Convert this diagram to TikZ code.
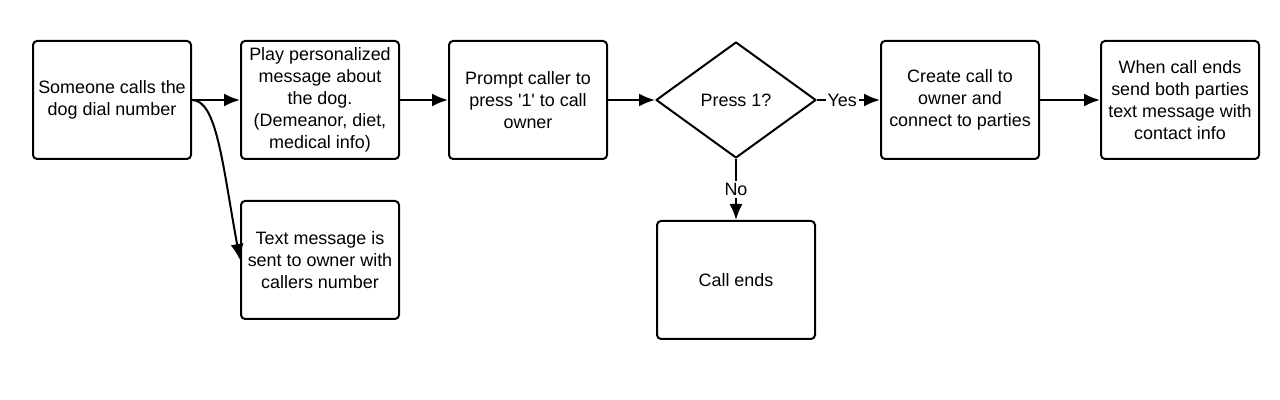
\documentclass[tikz,border=0pt]{standalone}
\usepackage{fontspec}
\setmainfont{Liberation Sans}
\usetikzlibrary{arrows.meta, shapes.geometric, positioning}

\begin{document}
\begin{tikzpicture}
            \tikzstyle{step box}=[shape=rectangle, draw=black, line width=0.04cm, rounded corners=0.08cm, minimum width=3.16cm, minimum height=2.36cm, align=center, font=\fontsize{10.2}{12.5}\selectfont, inner sep=0pt];
            \tikzstyle{choice}=[shape=diamond, draw=black, line width=0.04cm, line join=round, minimum width=3.2cm, minimum height=2.32cm, inner sep=0pt, font=\fontsize{10.2}{12.5}\selectfont];
            \tikzstyle{flow}=[draw, -{Latex[length=0.32cm,width=0.26cm]}, line width=0.04cm];
            \tikzstyle{answer}=[fill=white, inner sep=1pt, font=\fontsize{10.2}{12.5}\selectfont];

            \useasboundingbox (0,0) rectangle (25.6,8);

            % top row
            \node[step box](Call) at (2.24,6) {Someone calls the\\dog dial number};
            \node[step box](Play) at (6.4,6) {Play personalized\\message about\\the dog.\\(Demeanor, diet,\\medical info)};
            \node[step box](Prompt) at (10.56,6) {Prompt caller to\\press \textquotesingle 1\textquotesingle{} to call\\owner};
            \node[choice](Press) at (14.72,6) {Press 1?};
            \node[step box](Connect) at (19.2,6) {Create call to\\owner and\\connect to parties};
            \node[step box](Ends) at (23.6,6) {When call ends\\send both parties\\text message with\\contact info};

            % lower row
            \node[step box](Text) at (6.4,2.8) {Text message is\\sent to owner with\\callers number};
            \node[step box](Hangup) at (14.72,2.4) {Call ends};

            \path
                (Call.east) edge[flow] (Play.west)
                (Play.east) edge[flow] (Prompt.west)
                (Prompt.east) edge[flow] (Press.west)
                (Press.east) edge[flow] node[answer, pos=0.4] {Yes} (Connect.west)
                (Connect.east) edge[flow] (Ends.west)
                (Press.south) edge[flow] node[answer] {No} (Hangup.north)
            ;

            \draw[flow]
                (Call.east) .. controls +(0.5,0) and +(-0.35,1.9) .. (Text.west)
            ;
        \end{tikzpicture}
\end{document}
